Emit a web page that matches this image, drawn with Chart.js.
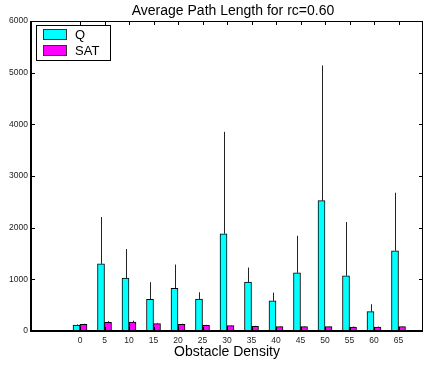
<!DOCTYPE html>
<html>
<head>
<meta charset="utf-8">
<script src="https://cdn.jsdelivr.net/npm/chart.js@4/dist/chart.umd.min.js"></script>
<style>
  body { margin: 0; background: #fff; }
  canvas { display: block; }
</style>
</head>
<body>
<canvas id="chart" width="428" height="365"></canvas>
<script>
const categories = [0, 5, 10, 15, 20, 25, 30, 35, 40, 45, 50, 55, 60, 65];
const qMeans = [116, 1300, 1022, 615, 828, 620, 1882, 945, 582, 1125, 2522, 1067, 375, 1552];
const qErrors = [10, 906, 563, 330, 458, 130, 1973, 283, 161, 718, 2618, 1042, 143, 1125];
const satMeans = [130, 170, 175, 142, 130, 110, 103, 91, 84, 84, 84, 78, 78, 84];
const satErrors = [10, 20, 25, 15, 10, 10, 10, 10, 8, 8, 8, 8, 8, 8];
const yTicks = [0, 1000, 2000, 3000, 4000, 5000, 6000];
const titleText = "Average Path Length for rc=0.60";
const xLabel = "Obstacle Density";

const FONT = "'Liberation Sans', Arial, Helvetica, sans-serif";
const errors = [qErrors, satErrors];

// box around the axes with inward ticks, error bars, title and legend
const extras = {
  id: "extras",
  afterDatasetsDraw(chart) {
    const ctx = chart.ctx;
    const xs = chart.scales.x, ys = chart.scales.y;
    const a = chart.chartArea;

    ctx.save();
    ctx.strokeStyle = "#222";
    ctx.lineWidth = 1;
    chart.data.datasets.forEach((ds, i) => {
      const meta = chart.getDatasetMeta(i);
      meta.data.forEach((bar, j) => {
        const top = ys.getPixelForValue(ds.data[j].y + errors[i][j]);
        const x = Math.round(bar.x) + 0.5;
        ctx.beginPath();
        ctx.moveTo(x, bar.y);
        ctx.lineTo(x, top);
        ctx.stroke();
      });
    });

    ctx.strokeStyle = "#000";
    ctx.lineWidth = 1;
    ctx.beginPath();
    yTicks.forEach(v => {
      const y = Math.round(ys.getPixelForValue(v)) + 0.5;
      ctx.moveTo(a.left, y); ctx.lineTo(a.left + 4, y);
      ctx.moveTo(a.right, y); ctx.lineTo(a.right - 4, y);
    });
    categories.forEach(v => {
      const x = Math.round(xs.getPixelForValue(v)) + 0.5;
      ctx.moveTo(x, a.top); ctx.lineTo(x, a.top + 4);
      ctx.moveTo(x, a.bottom); ctx.lineTo(x, a.bottom - 4);
    });
    ctx.moveTo(a.left, a.top + 0.5); ctx.lineTo(a.right, a.top + 0.5);
    ctx.moveTo(a.right - 0.5, a.top); ctx.lineTo(a.right - 0.5, a.bottom);
    ctx.stroke();

    ctx.lineWidth = 2;
    ctx.beginPath();
    ctx.moveTo(a.left, a.top);
    ctx.lineTo(a.left, a.bottom);
    ctx.lineTo(a.right, a.bottom);
    ctx.stroke();
    ctx.restore();
  },
  afterDraw(chart) {
    const ctx = chart.ctx;
    const a = chart.chartArea;
    ctx.save();
    ctx.fillStyle = "#000";
    ctx.font = "14px " + FONT;
    ctx.textAlign = "center";
    ctx.textBaseline = "alphabetic";
    ctx.fillText(titleText, (a.left + a.right) / 2 + 6, 14.5);

    // legend box
    const lx = a.left + 5, ly = a.top + 4;
    ctx.fillStyle = "#fff";
    ctx.fillRect(lx, ly, 75, 36);
    ctx.strokeStyle = "#000";
    ctx.lineWidth = 1;
    ctx.strokeRect(lx + 0.5, ly + 0.5, 74, 35);
    ctx.font = "13px " + FONT;
    ctx.textAlign = "left";
    ctx.textBaseline = "middle";
    chart.data.datasets.forEach((ds, i) => {
      const y = ly + 4 + i * 16;
      ctx.fillStyle = ds.backgroundColor;
      ctx.fillRect(lx + 7, y, 24, 11);
      ctx.strokeStyle = "#333";
      ctx.strokeRect(lx + 7.5, y + 0.5, 23, 10);
      ctx.fillStyle = "#000";
      ctx.fillText(ds.label, lx + 39, y + 6);
    });
    ctx.restore();
  }
};

new Chart(document.getElementById("chart"), {
  type: "bar",
  data: {
    datasets: [
      {
        label: "Q",
        data: categories.map((c, i) => ({ x: c, y: qMeans[i] })),
        backgroundColor: "#00ffff",
        borderColor: "#000",
        borderWidth: 1,
        barThickness: 7
      },
      {
        label: "SAT",
        data: categories.map((c, i) => ({ x: c, y: satMeans[i] })),
        backgroundColor: "#ff00ff",
        borderColor: "#000",
        borderWidth: 1,
        barThickness: 7
      }
    ]
  },
  options: {
    responsive: false,
    animation: false,
    layout: { padding: { top: 21, right: 1, left: 0, bottom: 0 } },
    plugins: {
      legend: { display: false },
      tooltip: { enabled: false },
      title: { display: false }
    },
    scales: {
      x: {
        type: "linear",
        min: -10,
        max: 70,
        offset: false,
        grid: { display: false, drawTicks: false, offset: false },
        border: { display: false },
        ticks: {
          stepSize: 5,
          autoSkip: false,
          maxRotation: 0,
          padding: 5,
          color: "#222",
          font: { family: FONT, size: 8.5 },
          callback: v => categories.includes(v) ? String(v) : ""
        },
        title: {
          display: true,
          text: xLabel,
          color: "#000",
          font: { family: FONT, size: 14 },
          padding: { top: 0, bottom: 4.5 }
        },
        afterFit(scale) { scale.height = 34; }
      },
      y: {
        min: 0,
        max: 6000,
        grid: { display: false, drawTicks: false },
        border: { display: false },
        ticks: {
          stepSize: 1000,
          padding: 3,
          color: "#222",
          font: { family: FONT, size: 8.5 },
          callback: v => String(v)
        },
        afterFit(scale) { scale.width = 31; }
      }
    }
  },
  plugins: [extras]
});
</script>
</body>
</html>
